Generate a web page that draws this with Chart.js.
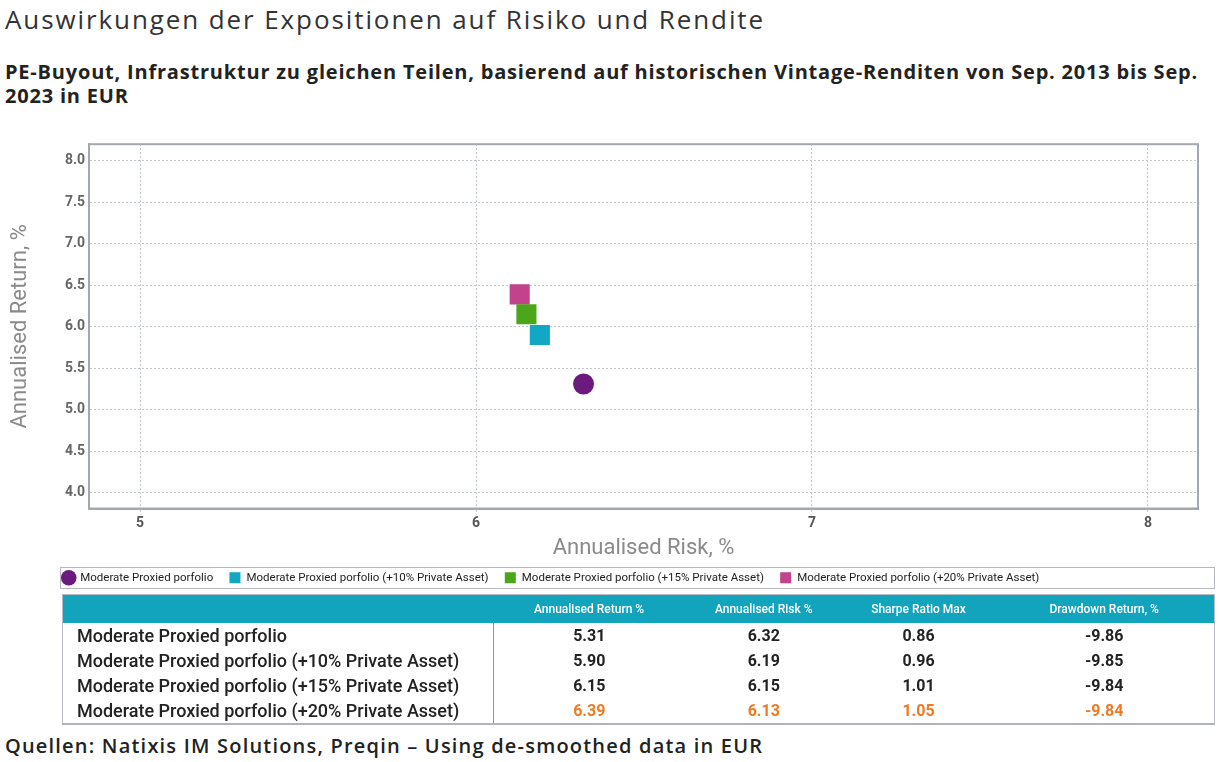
<!DOCTYPE html>
<html lang="de">
  <head>
    <meta charset="UTF-8" />
    <title>Auswirkungen der Expositionen auf Risiko und Rendite</title>
    <script src="https://cdn.jsdelivr.net/npm/chart.js"></script>
    <style>
      body {
        margin: 0;
        width: 1219px;
        height: 762px;
        overflow: hidden;
        background: #fff;
        position: relative;
        font-family: "Open Sans", sans-serif;
      }
      #title {
        position: absolute;
        left: 5px;
        top: 1px;
        font-size: 26px;
        font-weight: 500;
        letter-spacing: 1.9px;
        color: #333;
        white-space: nowrap;
      }
      #subtitle {
        position: absolute;
        left: 5px;
        top: 60px;
        font-size: 20px;
        font-weight: 700;
        letter-spacing: 0.8px;
        line-height: 24px;
        color: #222;
        white-space: nowrap;
      }
      #chartBox {
        position: absolute;
        left: 0;
        top: 130px;
        width: 1219px;
        height: 466px;
      }
      table {
        position: absolute;
        left: 62px;
        top: 594px;
        width: 1153px;
        border-collapse: collapse;
        font-family: Roboto, sans-serif;
        border: 1px solid #b9bcc2;
        border-bottom: 2px solid #b0b3b9;
      }
      th {
        background: #12a3bd;
        color: #fff;
        font-size: 12px;
        font-weight: 500;
        height: 28px;
        padding: 0;
        text-align: center;
      }
      td {
        height: 25px;
        padding: 0;
        font-size: 16px;
        font-weight: 700;
        color: #222;
        text-align: center;
      }
      td.name {
        text-align: left;
        padding-left: 14px;
        font-size: 18px;
        font-weight: 500;
        border-right: 1px solid #8f9399;
      }
      tr.hl td { color: #f07a22; }
      tr.hl td.name { color: #222; }
      #source {
        position: absolute;
        left: 5px;
        top: 732px;
        font-size: 20px;
        font-weight: 600;
        letter-spacing: 1.2px;
        color: #222;
        white-space: nowrap;
      }
    </style>
  </head>
  <body>
    <div id="title">Auswirkungen der Expositionen auf Risiko und Rendite</div>
    <div id="subtitle">
      PE-Buyout, Infrastruktur zu gleichen Teilen, basierend auf historischen Vintage-Renditen von Sep. 2013 bis Sep.<br />2023 in EUR
    </div>
    <div id="chartBox"><canvas id="myChart"></canvas></div>
    <table id="stats"></table>
    <div id="source">Quellen: Natixis IM Solutions, Preqin – Using de-smoothed data in EUR</div>

    <script>
      const portfolios = [
        "Moderate Proxied porfolio",
        "Moderate Proxied porfolio (+10% Private Asset)",
        "Moderate Proxied porfolio (+15% Private Asset)",
        "Moderate Proxied porfolio (+20% Private Asset)",
      ];
      const annReturn = [5.31, 5.9, 6.15, 6.39];
      const annRisk = [6.32, 6.19, 6.15, 6.13];
      const sharpe = [0.86, 0.96, 1.01, 1.05];
      const drawdown = [-9.86, -9.85, -9.84, -9.84];
      const columns = ["Annualised Return %", "Annualised Risk %", "Sharpe Ratio Max", "Drawdown Return, %"];

      const xTicks = [5, 6, 7, 8];
      const yTicks = [4.0, 4.5, 5.0, 5.5, 6.0, 6.5, 7.0, 7.5, 8.0];

      const colors = ["#6a1b7d", "#12a7c5", "#4ca61a", "#c2428c"];
      const shapes = ["circle", "rect", "rect", "rect"];
      const sizes = [10.5, 14.2, 14.2, 14.2];

      // table under the chart
      const tbl = document.getElementById("stats");
      const colWidths = [431, 192, 158, 152, 220];
      let html = "<tr><th style='width:" + colWidths[0] + "px'></th>";
      columns.forEach((c, i) => {
        html += "<th style='width:" + colWidths[i + 1] + "px'>" + c + "</th>";
      });
      html += "</tr>";
      portfolios.forEach((p, i) => {
        const cls = i === portfolios.length - 1 ? " class='hl'" : "";
        html += "<tr" + cls + "><td class='name'>" + p + "</td>";
        html += "<td>" + annReturn[i].toFixed(2) + "</td>";
        html += "<td>" + annRisk[i].toFixed(2) + "</td>";
        html += "<td>" + sharpe[i].toFixed(2) + "</td>";
        html += "<td>" + drawdown[i].toFixed(2) + "</td></tr>";
      });
      tbl.innerHTML = html;

      const gridColor = "#c3c7ce";
      const frameColor = "#a3a7ae";

      // box around plot area + legend frame, legend moved into place
      const framePlugin = {
        id: "frame",
        afterLayout(chart) {
          const l = chart.legend;
          const h = l.height;
          l.left = 47;
          l.right = 1219;
          l.top = 426;
          l.bottom = l.top + h + 20;
        },
        afterDraw(chart) {
          const { ctx, chartArea } = chart;
          ctx.save();
          ctx.strokeStyle = frameColor;
          ctx.lineWidth = 2;
          ctx.strokeRect(chartArea.left, chartArea.top, chartArea.right - chartArea.left, chartArea.bottom - chartArea.top);
          ctx.lineWidth = 1;
          ctx.strokeStyle = "#b5b8be";
          ctx.strokeRect(60.5, 437.5, 1154, 21);
          ctx.restore();
        },
      };

      const datasets = portfolios.map((p, i) => ({
        label: p,
        data: [{ x: annRisk[i], y: annReturn[i] }],
        backgroundColor: colors[i],
        borderColor: colors[i],
        borderWidth: 0,
        pointStyle: shapes[i],
        pointRadius: sizes[i],
        pointHoverRadius: sizes[i],
      }));

      const ctx = document.getElementById("myChart");
      const myChart = new Chart(ctx, {
        type: "scatter",
        data: { datasets: datasets },
        plugins: [framePlugin],
        options: {
          responsive: true,
          maintainAspectRatio: false,
          animation: false,
          layout: { padding: { top: 9, right: 21, left: 0, bottom: 0 } },
          plugins: {
            tooltip: { enabled: false },
            legend: {
              position: "bottom",
              align: "start",
              labels: {
                usePointStyle: true,
                boxHeight: 11,
                padding: 16,
                color: "#222",
                font: { family: "Roboto", size: 11.5 },
              },
            },
          },
          scales: {
            x: {
              type: "linear",
              min: 4.848,
              max: 8.149,
              afterBuildTicks: (scale) => {
                scale.ticks = xTicks.map((v) => ({ value: v }));
              },
              afterFit: (scale) => {
                scale.height = 50;
              },
              grid: {
                color: gridColor,
                tickColor: gridColor,
                tickBorderDash: [2, 2],
                tickLength: 6,
              },
              border: { display: true, color: frameColor, width: 2, dash: [2, 2] },
              ticks: {
                padding: 1,
                color: "#555",
                font: { family: "Roboto", size: 14, weight: "bold" },
              },
              title: {
                display: true,
                text: "Annualised Risk, %",
                color: "#8a8a8a",
                padding: { top: 0, bottom: -1 },
                font: { family: "Roboto", size: 22, lineHeight: 1 },
              },
            },
            y: {
              type: "linear",
              min: 3.81,
              max: 8.2,
              afterBuildTicks: (scale) => {
                scale.ticks = yTicks.map((v) => ({ value: v }));
              },
              afterFit: (scale) => {
                scale.width = 89;
              },
              grid: {
                color: gridColor,
                drawTicks: false,
              },
              border: { display: true, color: frameColor, width: 2, dash: [2, 2] },
              ticks: {
                padding: 4,
                color: "#666",
                font: { family: "Roboto", size: 14, weight: "bold" },
                callback: (value) => Number(value).toFixed(1),
              },
              title: {
                display: true,
                text: "Annualised Return, %",
                color: "#8a8a8a",
                padding: { top: 9, bottom: 0 },
                font: { family: "Roboto", size: 22, lineHeight: 1 },
              },
            },
          },
        },
      });
    </script>
  </body>
</html>
